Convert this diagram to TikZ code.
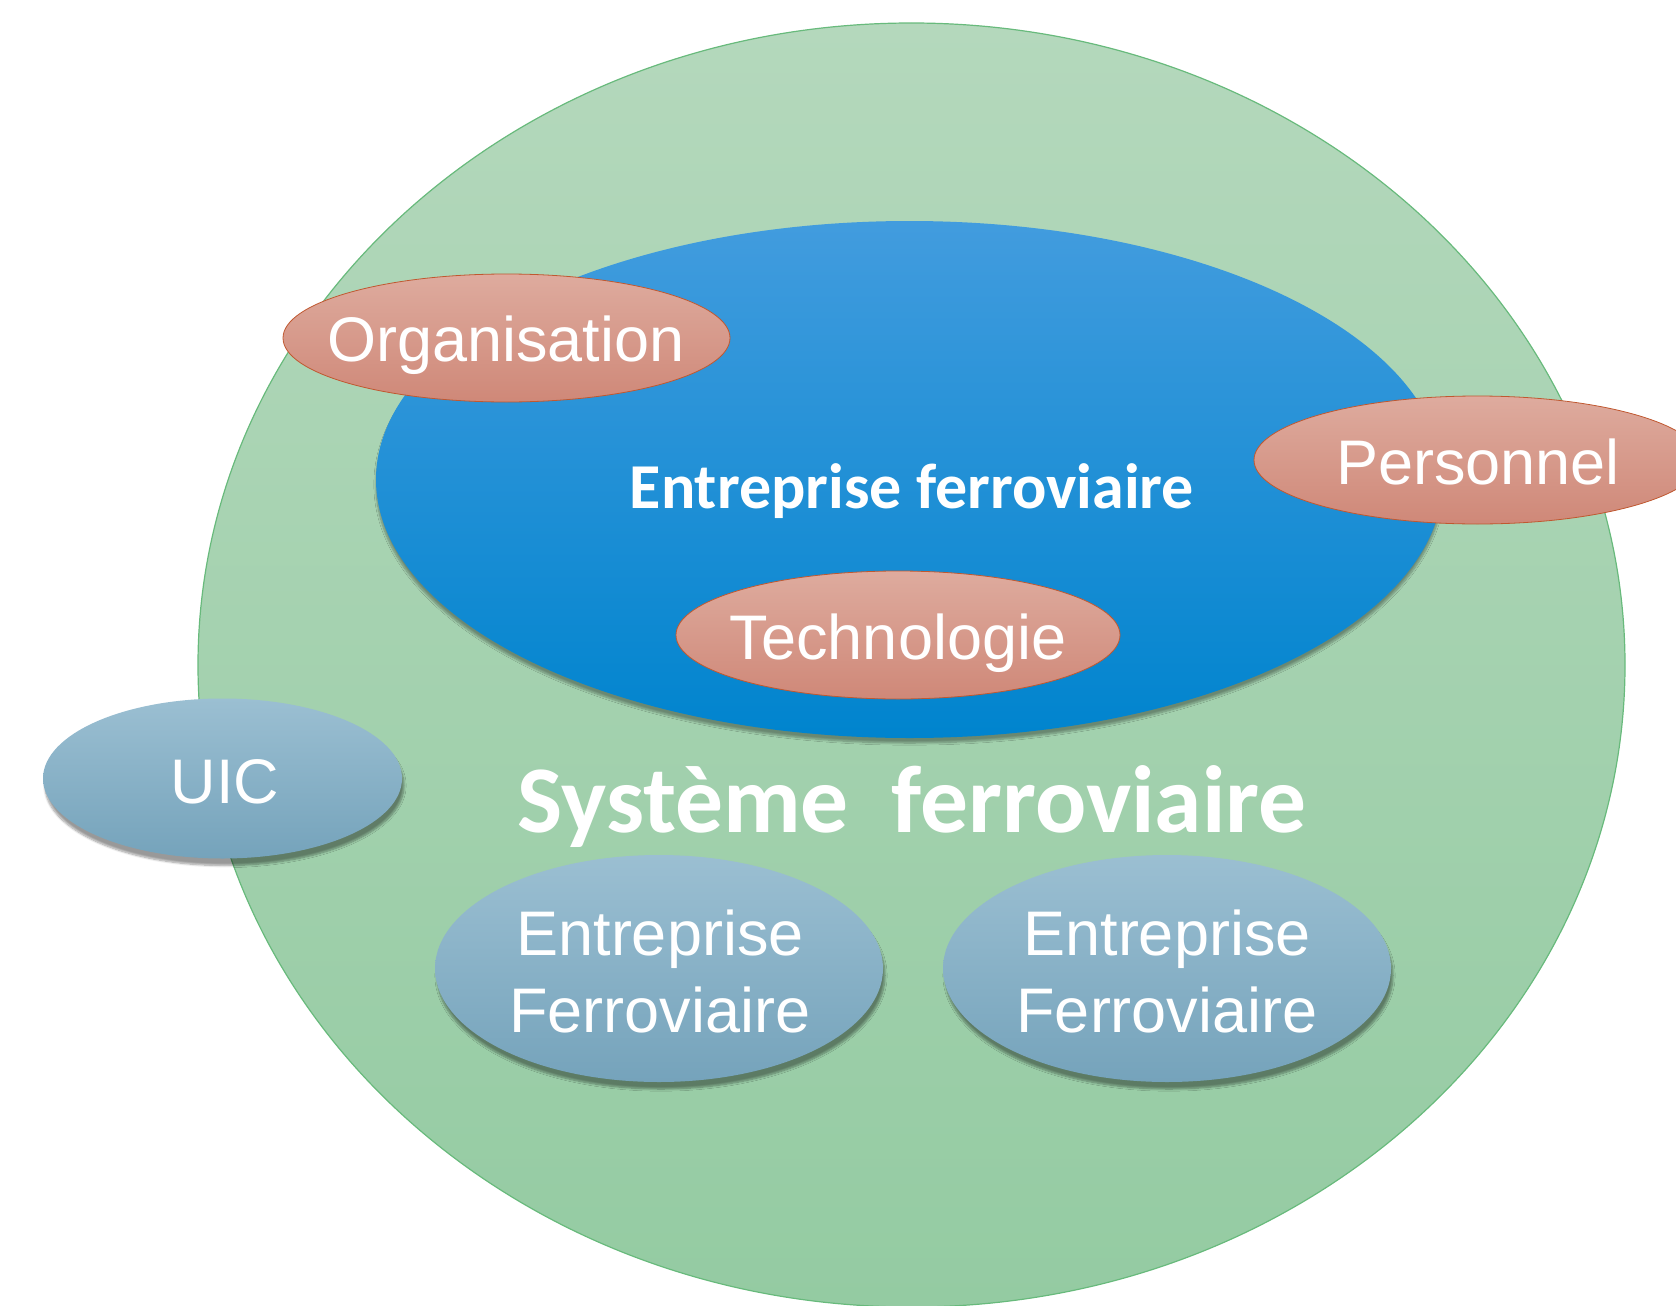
\documentclass[tikz,border=0pt]{standalone}
\usepackage{fontspec}
\setmainfont{Liberation Sans}
\newfontfamily\carlito{Carlito}
\usetikzlibrary{shapes.geometric,shadows.blur}
\definecolor{gTop}{RGB}{180,216,188}
\definecolor{gBot}{RGB}{148,203,162}
\definecolor{gLine}{RGB}{104,186,124}
\definecolor{bTop}{RGB}{66,156,222}
\definecolor{bBot}{RGB}{0,132,206}
\definecolor{rTop}{RGB}{222,171,158}
\definecolor{rBot}{RGB}{207,136,120}
\definecolor{rLine}{RGB}{192,88,48}
\definecolor{sTop}{RGB}{155,191,210}
\definecolor{sBot}{RGB}{117,163,187}
\tikzset{
  oval/.style={ellipse, inner sep=0pt, outer sep=0pt},
  greenoval/.style={oval, top color=gTop, bottom color=gBot, draw=gLine, line width=1.2pt},
  blueoval/.style={oval, top color=bTop, bottom color=bBot,
    blur shadow={shadow xshift=0pt, shadow yshift=-5pt, shadow opacity=35, shadow blur steps=8}},
  redoval/.style={oval, top color=rTop, bottom color=rBot, draw=rLine, line width=0.8pt},
  greyoval/.style={oval, top color=sTop, bottom color=sBot,
    blur shadow={shadow xshift=2pt, shadow yshift=-7pt, shadow opacity=40, shadow blur steps=8}},
  lab/.style={anchor=base, text=white, inner sep=0pt, font=\fontsize{63}{77}\selectfont, align=center},
  boldlab/.style={anchor=base, text=white, inner sep=0pt, font=\carlito\bfseries\fontsize{64}{77}\selectfont},
}
\begin{document}
\begin{tikzpicture}[x=1pt,y=-1pt]
\useasboundingbox (0,0) rectangle (1676,1306);
\node[greenoval, minimum width=1427pt, minimum height=1284pt] (sys) at (911.5,665) {};
\node[blueoval, minimum width=1067pt, minimum height=517pt] (ent) at (909.5,479.5) {};
\node[boldlab] (entt) at (912,508) {Entreprise ferroviaire};
\node[boldlab, font=\carlito\bfseries\fontsize{95.5}{110}\selectfont] (syst) at (912,832) {Système\ \ ferroviaire};
\node[redoval, minimum width=447pt, minimum height=128pt] (org) at (506.5,338) {};
\node[lab] (orgt) at (506,361) {Organisation};
\node[redoval, minimum width=447pt, minimum height=128pt] (pers) at (1477.5,460) {};
\node[lab] (perst) at (1478,484) {Personnel};
\node[redoval, minimum width=444pt, minimum height=128pt] (tech) at (898,635) {};
\node[lab] (techt) at (898,659) {Technologie};
\node[greyoval, minimum width=359pt, minimum height=160pt] (uic) at (222.5,778.5) {};
\node[lab] (uict) at (225,803) {UIC};
\node[greyoval, minimum width=448pt, minimum height=227pt] (ef1) at (659,968.5) {};
\node[lab] (ef1t) at (660,1032) {Entreprise\\Ferroviaire};
\node[greyoval, minimum width=448pt, minimum height=227pt] (ef2) at (1167,968.5) {};
\node[lab] (ef2t) at (1167,1032) {Entreprise\\Ferroviaire};
\end{tikzpicture}
\end{document}
